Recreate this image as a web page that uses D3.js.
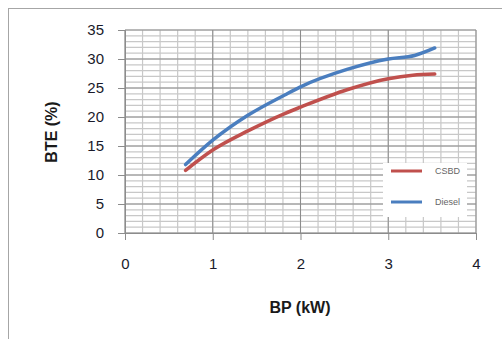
<!DOCTYPE html>
<html><head><meta charset="utf-8">
<script src="https://cdn.jsdelivr.net/npm/d3@7"></script>
<style>body{margin:0;background:#fff;}svg{display:block;font-family:"Liberation Sans",Arial,sans-serif;}</style>
</head><body>
<svg id="c" width="502" height="339"></svg>
<script>
const seriesNames = ["CSBD", "Diesel"];
const seriesColors = ["#c0504d", "#4a7ebf"];
const bpCSBD = [0.69, 1.0, 1.4, 1.82, 2.0, 2.53, 3.0, 3.28, 3.53];
const bteCSBD = [10.8, 14.3, 17.6, 20.6, 21.7, 24.7, 26.6, 27.2, 27.4];
const bpDiesel = [0.69, 1.0, 1.4, 1.82, 2.0, 2.53, 3.0, 3.3, 3.53];
const bteDiesel = [11.8, 16.0, 20.3, 23.8, 25.2, 28.2, 30.0, 30.6, 31.9];
const xTicks = [0, 1, 2, 3, 4];
const yTicks = [0, 5, 10, 15, 20, 25, 30, 35];

const svg = d3.select("#c");
const L = 125, R = 476, T = 30, B = 233;
const x = d3.scaleLinear().domain([0, 4]).range([L, R]);
const y = d3.scaleLinear().domain([0, 35]).range([B, T]);

// outer border
svg.append("rect").attr("x", 8.5).attr("y", 8.5).attr("width", 520).attr("height", 360)
  .attr("fill", "#fff").attr("stroke", "#a6a6a6").attr("stroke-width", 1);

const g = svg.append("g");
// minor grid
d3.range(0, 4.0001, 0.2).forEach(v => {
  g.append("line").attr("x1", x(v)).attr("x2", x(v)).attr("y1", T).attr("y2", B)
    .attr("stroke", "#c8c8c8").attr("stroke-width", 1.2);
});
d3.range(0, 35.0001, 1).forEach(v => {
  g.append("line").attr("x1", L).attr("x2", R).attr("y1", y(v)).attr("y2", y(v))
    .attr("stroke", "#c8c8c8").attr("stroke-width", 1.2);
});
// major grid
xTicks.forEach(v => {
  g.append("line").attr("x1", x(v)).attr("x2", x(v)).attr("y1", T).attr("y2", B)
    .attr("stroke", "#8c8c8c").attr("stroke-width", 1);
});
yTicks.forEach(v => {
  g.append("line").attr("x1", L).attr("x2", R).attr("y1", y(v)).attr("y2", y(v))
    .attr("stroke", "#8c8c8c").attr("stroke-width", 1);
});

// axes
const xAxis = d3.axisBottom(x).tickValues(xTicks).tickSize(7).tickPadding(18).tickFormat(d3.format("d"));
const yAxis = d3.axisLeft(y).tickValues(yTicks).tickSize(7).tickPadding(14).tickFormat(d3.format("d"));
const gx = svg.append("g").attr("transform", `translate(0,${B})`).call(xAxis);
const gy = svg.append("g").attr("transform", `translate(${L},0)`).call(yAxis);
[gx, gy].forEach(a => {
  a.select(".domain").attr("stroke", "#8c8c8c");
  a.selectAll(".tick line").attr("stroke", "#8c8c8c");
  a.selectAll("text").attr("font-size", 15).attr("fill", "#1a1a2a").attr("font-family", "Liberation Sans, Arial, sans-serif");
});

// lines
const line = d3.line().x(d => x(d[0])).y(d => y(d[1])).curve(d3.curveMonotoneX);
const data = [bpCSBD.map((v, i) => [v, bteCSBD[i]]), bpDiesel.map((v, i) => [v, bteDiesel[i]])];
data.forEach((d, i) => {
  svg.append("path").datum(d).attr("d", line).attr("fill", "none")
    .attr("stroke", seriesColors[i]).attr("stroke-width", 3.5).attr("stroke-linecap", "round");
});

// legend
const lg = svg.append("g");
lg.append("rect").attr("x", 383).attr("y", 163).attr("width", 84).attr("height", 54).attr("fill", "#fff");
seriesNames.forEach((n, i) => {
  const yy = 171 + i * 31;
  lg.append("line").attr("x1", 391).attr("x2", 422).attr("y1", yy).attr("y2", yy)
    .attr("stroke", seriesColors[i]).attr("stroke-width", 3);
  lg.append("text").attr("x", 435).attr("y", yy + 3).attr("font-size", 9).attr("fill", "#666").text(n);
});

// axis titles
svg.append("text").attr("x", 300).attr("y", 313).attr("text-anchor", "middle")
  .attr("font-size", 16).attr("font-weight", "bold").attr("fill", "#1a1a1a").text("BP (kW)");
svg.append("text").attr("transform", "translate(57,132) rotate(-90)").attr("text-anchor", "middle")
  .attr("font-size", 16).attr("font-weight", "bold").attr("fill", "#1a1a1a").text("BTE (%)");
</script>
</body></html>
